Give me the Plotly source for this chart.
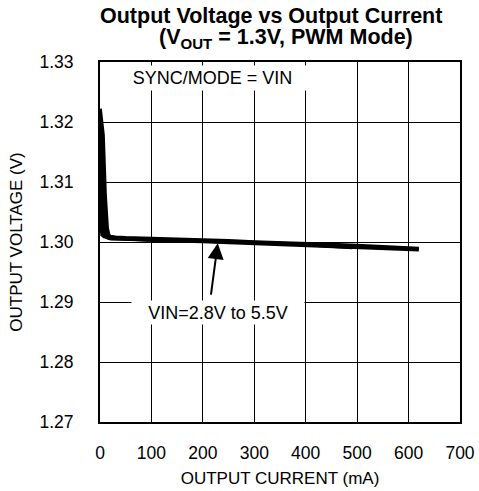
import plotly.graph_objects as go

# output current (mA) / output voltage (V)
current_a = [0.2, 1, 3, 6, 10, 14, 17, 20, 30, 50, 100, 150, 200, 250, 300, 350, 400, 450, 500, 550, 600, 620]
voltage_a = [1.3222, 1.3215, 1.3200, 1.3178, 1.3078, 1.3023, 1.3012, 1.3009, 1.3008, 1.3007, 1.3006, 1.3005,
             1.3003, 1.3002, 1.3000, 1.2999, 1.2997, 1.2996, 1.2994, 1.2992, 1.2990, 1.2989]

current_b = [0.2, 2, 5, 8, 12, 16, 20, 50, 100, 200, 300, 400, 490]
voltage_b = [1.3185, 1.3160, 1.3100, 1.3040, 1.3015, 1.3008, 1.3006, 1.3005, 1.3004, 1.3002, 1.2999, 1.2996, 1.2991]

current_c = [0.2, 1, 3, 6, 10, 15, 20, 50, 100, 200, 300, 400, 500, 600, 620]
voltage_c = [1.3100, 1.3080, 1.3050, 1.3020, 1.3010, 1.3007, 1.3006, 1.3005, 1.3003, 1.3001, 1.2998, 1.2995,
             1.2992, 1.2988, 1.2987]

current_d = [0.2, 0.5, 1, 2, 4, 8, 15, 20, 50, 100]
voltage_d = [1.3212, 1.3150, 1.3080, 1.3030, 1.3012, 1.3009, 1.3008, 1.3007, 1.3006, 1.3005]

x_ticks = [0, 100, 200, 300, 400, 500, 600, 700]
y_ticks = [1.27, 1.28, 1.29, 1.30, 1.31, 1.32, 1.33]

fig = go.Figure()
for xs, ys in [(current_a, voltage_a), (current_b, voltage_b), (current_c, voltage_c), (current_d, voltage_d)]:
    fig.add_trace(go.Scatter(x=xs, y=ys, mode="lines",
                             line=dict(color="black", width=3.5),
                             showlegend=False, hoverinfo="skip"))

axis_font = dict(family="Liberation Sans, Arial, sans-serif", size=17, color="black")
tick_font = dict(family="Liberation Sans, Arial, sans-serif", size=17.5, color="black")
note_font = dict(family="Liberation Sans, Arial, sans-serif", size=18, color="black")
title_font = dict(family="Liberation Sans, Arial, sans-serif", size=21.5, color="black")

fig.update_layout(
    width=479, height=491,
    margin=dict(l=100, r=19, t=62, b=69),
    paper_bgcolor="white", plot_bgcolor="white",
    font=axis_font,
    xaxis=dict(
        range=[0, 700], tickvals=x_ticks, ticks="", ticklabelstandoff=14, automargin=False,
        tickfont=tick_font,
        showgrid=True, gridcolor="black", gridwidth=1,
        showline=True, linecolor="black", linewidth=2, mirror=True, zeroline=False,
        title=dict(text="OUTPUT CURRENT (mA)", standoff=10, font=axis_font),
    ),
    yaxis=dict(
        range=[1.27, 1.33], tickvals=y_ticks, tickformat=".2f", ticks="", ticklabelstandoff=21,
        automargin=False, tickfont=tick_font,
        showgrid=True, gridcolor="black", gridwidth=1,
        showline=True, linecolor="black", linewidth=2, mirror=True, zeroline=False,
        title=dict(text="OUTPUT VOLTAGE (V)", standoff=12, font=axis_font),
    ),
)

# two-line bold title, one annotation per line to keep the tight line spacing
fig.add_annotation(xref="paper", yref="paper", x=0.475, y=1.127, xanchor="center", yanchor="middle",
                   text="<b>Output Voltage vs Output Current</b>", showarrow=False, font=title_font)
fig.add_annotation(xref="paper", yref="paper", x=0.516, y=1.066, xanchor="center", yanchor="middle",
                   text="<b>(V<sub>OUT</sub> = 1.3V, PWM Mode)</b>", showarrow=False, font=title_font)

fig.add_annotation(x=218, y=1.32733, text="SYNC/MODE = VIN", showarrow=False,
                   bgcolor="white", width=205, height=22, font=note_font)
fig.add_annotation(x=229, y=1.2883, text="VIN=2.8V to 5.5V", showarrow=False,
                   bgcolor="white", width=170, height=21, font=note_font)
fig.add_annotation(x=229, y=1.2998, ax=-7, ay=53, text="", showarrow=True,
                   arrowhead=2, arrowsize=1.6, arrowwidth=2, arrowcolor="black")

# drop the default page margin so the figure sits at the window's corner
fig.write_html("out.html", config={"displayModeBar": False},
               post_script="document.body.style.margin='0';")
